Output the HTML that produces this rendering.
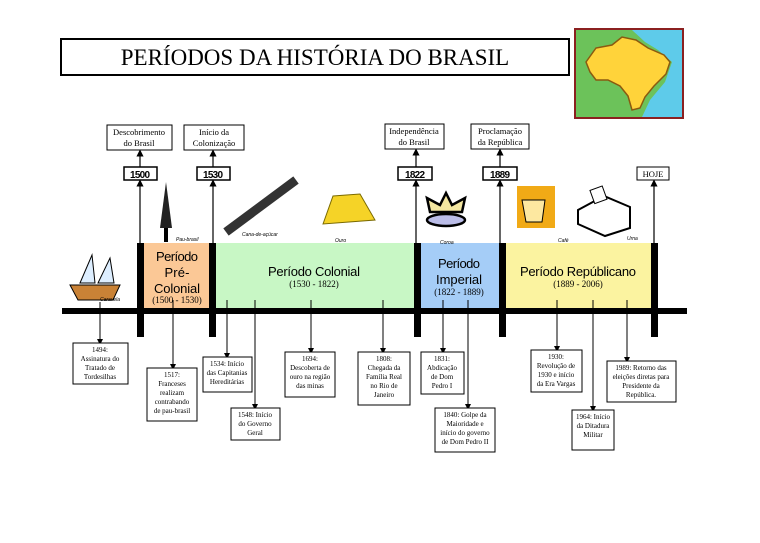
<!DOCTYPE html>
<html><head><meta charset="utf-8"><style>
body{margin:0;background:#fff}
svg text{font-family:"Liberation Serif",serif}
svg text.s{font-family:"Liberation Sans",sans-serif}
</style></head><body>
<svg width="760" height="538" viewBox="0 0 760 538" xmlns="http://www.w3.org/2000/svg">
<defs><marker id="a" markerWidth="6" markerHeight="6" refX="3" refY="3" orient="auto"><path d="M0,0L6,3L0,6z" fill="#000"/></marker></defs>
<rect x="61" y="39" width="508" height="36" fill="#fff" stroke="#000" stroke-width="2"/>
<text x="315" y="65" font-size="23" text-anchor="middle">PERÍODOS DA HISTÓRIA DO BRASIL</text>
<!-- map -->
<rect x="575" y="29" width="108" height="89" fill="#6cc25a" stroke="#8b2020" stroke-width="2"/>
<path d="M632,30 L682,30 L682,117 L642,117 L650,100 L665,82 L672,62 L658,50 L645,42 Z" fill="#5ecbea"/>
<path d="M586,62 L596,48 L612,45 L622,37 L636,40 L648,48 L664,55 L670,62 L666,74 L654,86 L645,97 L640,108 L632,110 L628,96 L620,86 L608,80 L596,80 L590,72 Z" fill="#ffd33a" stroke="#8a5a10" stroke-width="1.5"/>
<!-- bands -->
<rect x="144" y="243" width="66" height="66" fill="#fbc896"/>
<rect x="216" y="243" width="198" height="66" fill="#c8f7c5"/>
<rect x="421" y="243" width="78" height="66" fill="#a5cdf7"/>
<rect x="506" y="243" width="145" height="66" fill="#fbf3a0"/>
<rect x="62" y="308" width="625" height="6" fill="#000"/>
<g fill="#000">
<rect x="137" y="243" width="7" height="94"/><rect x="209" y="243" width="7" height="94"/>
<rect x="414" y="243" width="7" height="94"/><rect x="499" y="243" width="7" height="94"/>
<rect x="651" y="243" width="7" height="94"/>
</g>
<g text-anchor="middle" font-size="13">
<text class="s" x="177" y="261" textLength="42">Período</text><text class="s" x="177" y="277" textLength="25">Pré-</text><text class="s" x="177" y="293" textLength="46">Colonial</text>
<text class="s" x="314" y="276" textLength="92">Período Colonial</text>
<text class="s" x="459" y="268" textLength="42">Período</text><text class="s" x="459" y="284" textLength="46">Imperial</text>
<text class="s" x="578" y="276" textLength="116">Período Repúblicano</text>
</g>
<g text-anchor="middle" font-size="9">
<text x="177" y="303">(1500 - 1530)</text><text x="314" y="287">(1530 - 1822)</text>
<text x="459" y="295">(1822 - 1889)</text><text x="578" y="287">(1889 - 2006)</text>
</g>
<!-- top arrows -->
<g stroke="#000" stroke-width="1.2" marker-end="url(#a)">
<line x1="140" y1="243" x2="140" y2="183"/><line x1="140" y1="167" x2="140" y2="153"/>
<line x1="213" y1="243" x2="213" y2="183"/><line x1="213" y1="167" x2="213" y2="153"/>
<line x1="416" y1="243" x2="416" y2="183"/><line x1="416" y1="167" x2="416" y2="152"/>
<line x1="500" y1="243" x2="500" y2="183"/><line x1="500" y1="167" x2="500" y2="152"/>
<line x1="654" y1="243" x2="654" y2="183"/>
</g>
<g fill="#fff" stroke="#000">
<rect x="107" y="125" width="65" height="25"/><rect x="184" y="125" width="60" height="25"/>
<rect x="385" y="124" width="59" height="25"/><rect x="471" y="124" width="58" height="25"/>
<rect x="124" y="167" width="33" height="13" stroke-width="1.5"/><rect x="197" y="167" width="33" height="13" stroke-width="1.5"/>
<rect x="398" y="167" width="34" height="13" stroke-width="1.5"/><rect x="483" y="167" width="34" height="13" stroke-width="1.5"/>
<rect x="637" y="167" width="32" height="13"/>
</g>
<g text-anchor="middle" font-size="8.5">
<text x="139" y="135">Descobrimento</text><text x="139" y="146">do Brasil</text>
<text x="214" y="135">Início da</text><text x="214" y="146">Colonização</text>
<text x="414" y="134">Independência</text><text x="414" y="145">do Brasil</text>
<text x="500" y="134">Proclamação</text><text x="500" y="145">da República</text>
<text x="653" y="177">HOJE</text>
</g>
<g text-anchor="middle" font-size="10" font-weight="bold">
<text class="s" x="140" y="178" textLength="20">1500</text><text class="s" x="213" y="178" textLength="20">1530</text><text class="s" x="415" y="178" textLength="20">1822</text><text class="s" x="500" y="178" textLength="20">1889</text>
</g>
<!-- illustrations -->
<rect x="164" y="200" width="4" height="42" fill="#000"/><path d="M166,182 L160,228 L172,228 Z" fill="#222"/>
<g stroke="#333" stroke-width="9"><line x1="226" y1="232" x2="296" y2="180"/></g>
<path d="M323,224 L333,196 L360,194 L375,220 Z" fill="#f5d327" stroke="#7a6a00"/>
<path d="M430,212 L427,198 L440,205 L446,193 L452,205 L465,198 L462,212 Z" fill="#f3e6a0" stroke="#000" stroke-width="2.5"/>
<ellipse cx="446" cy="220" rx="19" ry="6" fill="#bbbde8" stroke="#000" stroke-width="2.5"/>
<rect x="517" y="186" width="38" height="42" fill="#f1aa16"/>
<path d="M522,200 L545,200 L542,222 L526,222 Z" fill="#fde8a0" stroke="#000"/>
<path d="M578,210 L604,196 L630,207 L630,228 L605,236 L578,224 Z" fill="#fff" stroke="#000" stroke-width="2"/>
<rect x="592" y="188" width="13" height="14" fill="#fff" stroke="#000" transform="rotate(-20 598 195)"/>
<path d="M70,285 L120,285 L113,300 L78,300 Z" fill="#c98236" stroke="#000"/>
<path d="M80,283 L92,255 L95,283 Z M98,283 L110,258 L114,283 Z" fill="#ddeeff" stroke="#000"/>
<g font-size="5" font-style="italic">
<text class="s" x="176" y="241">Pau-brasil</text><text class="s" x="242" y="236">Cana-de-açúcar</text><text class="s" x="335" y="242">Ouro</text>
<text class="s" x="440" y="244">Coroa</text><text class="s" x="558" y="242">Café</text><text class="s" x="627" y="240">Urna</text><text class="s" x="100" y="301">Caravela</text>
</g>
<!-- bottom arrows -->
<g stroke="#000" stroke-width="1" marker-end="url(#a)">
<line x1="100" y1="302" x2="100" y2="342"/><line x1="173" y1="300" x2="173" y2="367"/>
<line x1="227" y1="300" x2="227" y2="356"/><line x1="255" y1="300" x2="255" y2="407"/>
<line x1="311" y1="300" x2="311" y2="351"/><line x1="383" y1="300" x2="383" y2="351"/>
<line x1="443" y1="300" x2="443" y2="351"/><line x1="468" y1="300" x2="468" y2="407"/>
<line x1="557" y1="300" x2="557" y2="349"/><line x1="593" y1="300" x2="593" y2="409"/>
<line x1="627" y1="300" x2="627" y2="360"/>
</g>
<g fill="#fff" stroke="#000">
<rect x="73" y="343" width="55" height="41"/><rect x="147" y="368" width="50" height="53"/>
<rect x="203" y="357" width="49" height="35"/><rect x="231" y="408" width="49" height="32"/>
<rect x="285" y="352" width="50" height="45"/><rect x="358" y="352" width="52" height="53"/>
<rect x="421" y="352" width="43" height="42"/><rect x="435" y="408" width="60" height="44"/>
<rect x="531" y="350" width="51" height="42"/><rect x="572" y="410" width="42" height="40"/>
<rect x="607" y="361" width="69" height="41"/>
</g>
<g text-anchor="middle" font-size="7">
<text x="100" y="352">1494:</text><text x="100" y="361">Assinatura do</text><text x="100" y="370">Tratado de</text><text x="100" y="379">Tordesilhas</text>
<text x="172" y="377">1517:</text><text x="172" y="386">Franceses</text><text x="172" y="395">realizam</text><text x="172" y="404">contrabando</text><text x="172" y="413">de pau-brasil</text>
<text x="227" y="366">1534: Início</text><text x="227" y="375">das Capitanias</text><text x="227" y="384">Hereditárias</text>
<text x="255" y="417">1548: Início</text><text x="255" y="426">do Governo</text><text x="255" y="435">Geral</text>
<text x="310" y="361">1694:</text><text x="310" y="370">Descoberta de</text><text x="310" y="379">ouro na região</text><text x="310" y="388">das minas</text>
<text x="384" y="361">1808:</text><text x="384" y="370">Chegada da</text><text x="384" y="379">Família Real</text><text x="384" y="388">no Rio de</text><text x="384" y="397">Janeiro</text>
<text x="442" y="361">1831:</text><text x="442" y="370">Abdicação</text><text x="442" y="379">de Dom</text><text x="442" y="388">Pedro I</text>
<text x="465" y="417">1840: Golpe da</text><text x="465" y="426">Maioridade e</text><text x="465" y="435">início do governo</text><text x="465" y="444">de Dom Pedro II</text>
<text x="556" y="359">1930:</text><text x="556" y="368">Revolução de</text><text x="556" y="377">1930 e início</text><text x="556" y="386">da Era Vargas</text>
<text x="593" y="419">1964: Início</text><text x="593" y="428">da Ditadura</text><text x="593" y="437">Militar</text>
<text x="641" y="370">1989: Retorno das</text><text x="641" y="379">eleições diretas para</text><text x="641" y="388">Presidente da</text><text x="641" y="397">República.</text>
</g>
</svg>
</body></html>
